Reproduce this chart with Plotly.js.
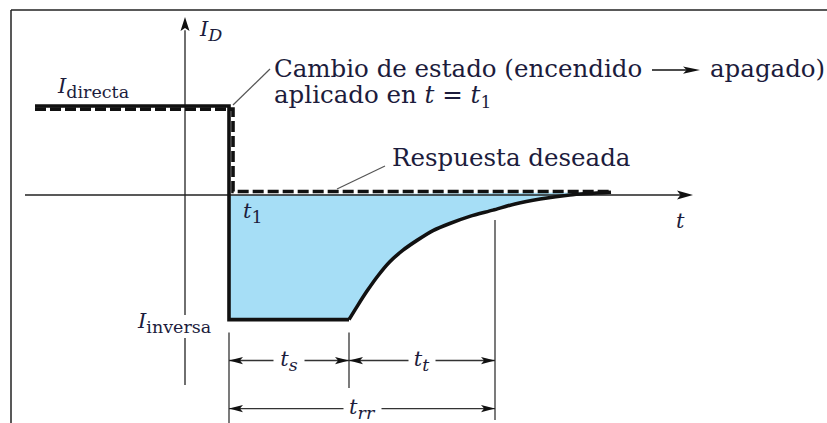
<!DOCTYPE html>
<html>
<head>
<meta charset="utf-8">
<script src="https://cdn.plot.ly/plotly-3.0.1.min.js"></script>
<style>html,body{margin:0;padding:0;background:#fff;}</style>
</head>
<body>
<div id="grafico" style="width:827px;height:423px;"></div>
<script>
// Tiempo de recuperacion inversa de un diodo.
// t en unidades arbitrarias (t1 = 0), corriente normalizada a I_directa = 1

// escalon de la corriente real (directa -> inversa)
var tEscalon = [-4.85, 0, 0, 3.0];
var iEscalon = [1.0, 1.0, -1.4, -1.4];

// recuperacion de la corriente inversa
var tCurva = [3.0, 3.22, 3.45, 3.72, 4.02, 4.35, 4.7, 5.1, 5.52, 6.02, 6.6, 7.15, 7.78, 8.52, 9.55];
var iCurva = [-1.4, -1.24, -1.08, -0.91, -0.75, -0.62, -0.51, -0.40, -0.32, -0.24, -0.17, -0.10, -0.045, 0.0, 0.03];

// respuesta deseada (linea de trazos)
var tDeseada = [-4.85, 0.1, 0.1, 9.55];
var iDeseada = [0.965, 0.965, 0.04, 0.04];

// cotas de tiempo: t_s, t_t, t_rr
var cotaInicio = [0, 3.0, 0];
var cotaFin = [3.0, 6.65, 6.65];
var cotaNivel = [-1.86, -1.86, -2.40];
var cotaTexto = ['s', 't', 'rr'];
var cotaAncho = [30, 26, 37];

var rangoT = [-5.725, 14.95];
var rangoI = [-2.562, 2.191];
var ANCHO = 827, ALTO = 423;
var SX = ANCHO / (rangoT[1] - rangoT[0]);   // px por unidad de t
var SY = ALTO / (rangoI[1] - rangoI[0]);    // px por unidad de i

var negro = '#111111';
var gris = '#333333';
var azul = '#a6def6';
var colorTexto = '#1c1c3c';

// punta de flecha como path; (dx,dy) direccion en pixeles (y hacia abajo)
function punta(t, i, dx, dy, largo, ancho) {
    var nx = -dy, ny = dx;
    function p(a, b) {
	return (t + a / SX).toFixed(4) + ',' + (i - b / SY).toFixed(4);
    }
    var path = 'M' + p(0, 0)
	+ 'L' + p(-dx * largo + nx * ancho, -dy * largo + ny * ancho)
	+ 'L' + p(-dx * largo * 0.78, -dy * largo * 0.78)
	+ 'L' + p(-dx * largo - nx * ancho, -dy * largo - ny * ancho) + 'Z';
    return { type: 'path', xref: 'x', yref: 'y', path: path,
	     fillcolor: negro, line: { width: 0 } };
}

function linea(x, y, color, ancho, dash) {
    return { type: 'scatter', mode: 'lines', x: x, y: y, hoverinfo: 'skip',
	     line: { color: color, width: ancho, dash: dash || 'solid' } };
}

var data = [];

// area sombreada entre el eje y la corriente inversa
var xArea = [0, 0].concat(tCurva);
var yArea = [0, iEscalon[2]].concat(iCurva);
data.push({ type: 'scatter', mode: 'lines', x: xArea, y: yArea, fill: 'toself',
	    fillcolor: azul, line: { width: 0 }, hoverinfo: 'skip' });

// ejes
data.push(linea([-5.1, 11.45], [0, 0], '#222', 1.3));
data.push(linea([-1.1, -1.1, null, -1.1, -1.1], [1.85, -1.348, null, -1.607, -2.135], '#222', 1.3));

// lineas de referencia de las cotas
data.push(linea([cotaInicio[0], cotaInicio[0], null, cotaFin[0], cotaFin[0], null, cotaFin[1], cotaFin[1]],
		[-1.545, rangoI[0], null, -1.545, -2.17, null, -0.28, -2.528], gris, 1.3));

// cotas
var xc = [], yc = [];
for (var k = 0; k < cotaInicio.length; k++) {
    xc.push(cotaInicio[k], cotaFin[k], null);
    yc.push(cotaNivel[k], cotaNivel[k], null);
}
data.push(linea(xc, yc, gris, 1.3));

// lineas guia de los rotulos y flecha del texto
data.push(linea([0.1, 1.025, null, 2.7, 3.9], [1.011, 1.416, null, 0.067, 0.326], '#555', 1.2));
data.push(linea([10.575, 11.5], [1.404, 1.404], negro, 1.5));

// respuesta real y deseada
data.push(linea(tEscalon, iEscalon, negro, 3.6));
data.push({ type: 'scatter', mode: 'lines', x: tCurva, y: iCurva, hoverinfo: 'skip',
	    line: { color: negro, width: 3.6, shape: 'spline', smoothing: 0.8 } });
data.push(linea(tDeseada, iDeseada, negro, 3.6, '11px,4px'));

var shapes = [
    // marco
    { type: 'line', xref: 'paper', yref: 'paper', x0: 11 / ANCHO, x1: 1, y0: 1 - 10 / ALTO, y1: 1 - 10 / ALTO,
      line: { color: '#222', width: 1.5 } },
    { type: 'line', xref: 'paper', yref: 'paper', x0: 11 / ANCHO, x1: 11 / ANCHO, y0: 0, y1: 1 - 10 / ALTO,
      line: { color: '#222', width: 1.5 } },
    punta(11.6, 0, 1, 0, 16, 4.5),
    punta(-1.1, 2.0, 0, -1, 14, 4.5),
    punta(11.775, 1.404, 1, 0, 17, 3.6)
];
for (var k = 0; k < cotaInicio.length; k++) {
    shapes.push(punta(cotaInicio[k], cotaNivel[k], -1, 0, 14, 3.6));
    shapes.push(punta(cotaFin[k], cotaNivel[k], 1, 0, 14, 3.6));
}

function variable(letra, sub, subItalica) {
    var s = subItalica ? '<i>' + sub + '</i>' : sub;
    return '<span style="font-size:21px"><i>' + letra + '</i></span><sub>' + s + '</sub>';
}

var fuente = { family: 'DejaVu Serif', size: 24.5, color: colorTexto };
var fuenteVar = { family: 'DejaVu Serif', size: 25, color: colorTexto };

var annotations = [
    { x: -0.8, y: 1.843, text: variable('I', 'D', true), xanchor: 'left', font: fuenteVar },
    { x: -4.35, y: 1.2, text: variable('I', 'directa', false), xanchor: 'left', font: fuenteVar },
    { x: -0.4, y: -1.438, text: variable('I', 'inversa', false), xanchor: 'right', font: fuenteVar },
    { x: 0.3, y: -0.2, text: variable('t', '1', false), xanchor: 'left', font: fuenteVar },
    { x: 11.275, y: -0.292, text: '<i>t</i>', font: { family: 'DejaVu Serif', size: 21, color: colorTexto } },
    { x: 1.075, y: 1.416, text: 'Cambio de estado (encendido', xanchor: 'left', font: fuente },
    { x: 11.975, y: 1.416, text: 'apagado)', xanchor: 'left', font: fuente },
    { x: 1.075, y: 1.112, text: 'aplicado en <i>t</i> = <i>t</i><sub>1</sub>', xanchor: 'left', font: fuente },
    { x: 4.025, y: 0.416, text: 'Respuesta deseada', xanchor: 'left', font: fuente }
];
for (var k = 0; k < cotaInicio.length; k++) {
    annotations.push({ x: (cotaInicio[k] + cotaFin[k]) / 2, y: cotaNivel[k], text: variable('t', cotaTexto[k], true),
		       bgcolor: '#ffffff', width: cotaAncho[k], borderpad: 0, font: fuenteVar });
}
for (var k = 0; k < annotations.length; k++) {
    annotations[k].showarrow = false;
    annotations[k].xref = 'x';
    annotations[k].yref = 'y';
}

var layout = {
    width: ANCHO, height: ALTO,
    margin: { l: 0, r: 0, t: 0, b: 0 },
    paper_bgcolor: '#ffffff', plot_bgcolor: '#ffffff',
    showlegend: false,
    xaxis: { range: rangoT, visible: false, fixedrange: true },
    yaxis: { range: rangoI, visible: false, fixedrange: true },
    shapes: shapes,
    annotations: annotations
};

Plotly.newPlot('grafico', data, layout, { staticPlot: true, displayModeBar: false });
</script>
</body>
</html>
